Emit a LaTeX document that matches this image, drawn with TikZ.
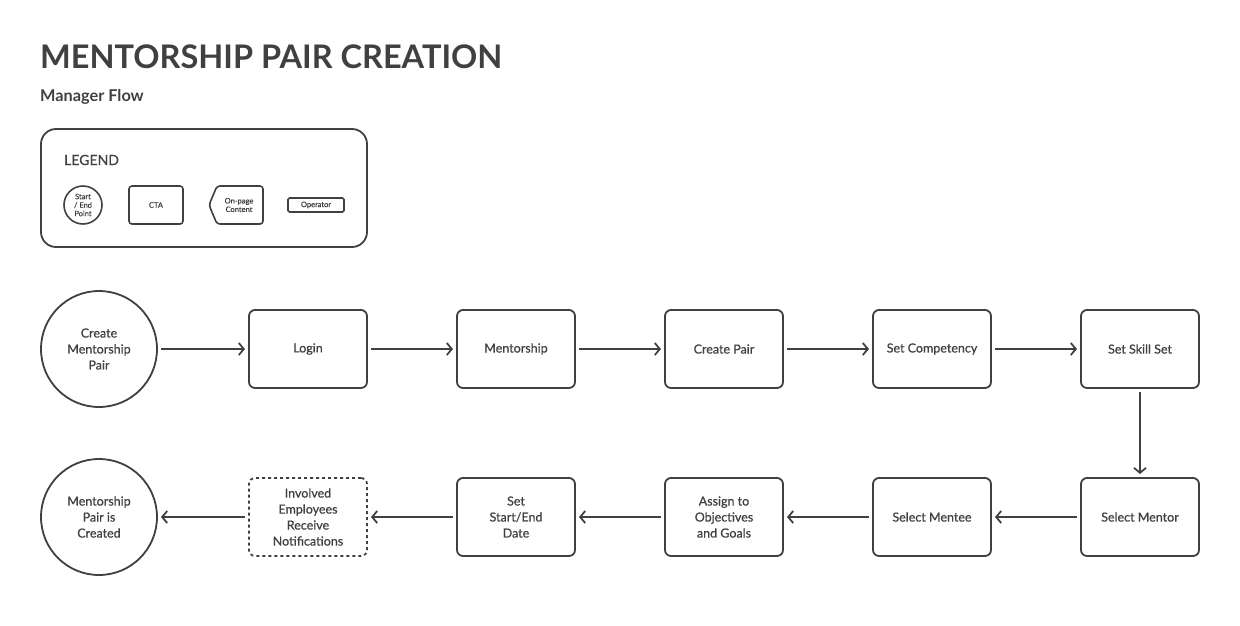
\documentclass[tikz,border=0pt]{standalone}
\usepackage{fontspec}
\setmainfont{Lato}
\newfontfamily\medfont{Lato}[FakeBold=0.6]
\usetikzlibrary{arrows.meta}
\definecolor{ink}{HTML}{404040}
\tikzset{
  box/.style={draw=ink, line width=1.8pt, rounded corners=6pt, minimum width=118pt, minimum height=78pt, align=center, font=\medfont\fontsize{12.5}{16}\selectfont, text=ink, inner sep=2pt, outer sep=0pt},
  term/.style={draw=ink, line width=1.8pt, circle, minimum size=116pt, align=center, font=\medfont\fontsize{12.5}{16}\selectfont, text=ink, inner sep=0pt, outer sep=0pt},
  flow/.style={draw=ink, line width=1.8pt, -{Straight Barb[length=5pt,width=12pt,line width=1.8pt]}, shorten <=4pt, shorten >=4pt},
  lg/.style={draw=ink, line width=1.6pt, align=center, font=\medfont\fontsize{7.5}{8.5}\selectfont, text=ink, inner sep=0pt, outer sep=0pt},
}
\begin{document}
\begin{tikzpicture}[x=1pt,y=-1pt]
\useasboundingbox (0,0) rectangle (1240,625);
\node[anchor=base west, text=ink, font=\fontsize{32.5}{36}\bfseries\selectfont, inner sep=0pt] (title) at (40,68) {MENTORSHIP PAIR CREATION};
\node[anchor=base west, text=ink, font=\fontsize{16.3}{18}\bfseries\selectfont, inner sep=0pt] (sub) at (40,101) {Manager Flow};
% legend
\draw[ink, line width=1.8pt, rounded corners=15pt] (41,129) rectangle (367,247);
\node[anchor=base west, text=ink, font=\medfont\fontsize{14}{15}\selectfont, inner sep=0pt] (legend) at (64,165) {LEGEND};
\node[lg, circle, minimum size=38pt] (lstart) at (83,205) {Start\\/ End\\Point};
\node[lg, rounded corners=3pt, minimum width=54pt, minimum height=38pt] (lcta) at (156,205) {CTA};
\draw[ink, line width=1.6pt, rounded corners=3pt] (217,186) -- (263,186) -- (263,224) -- (217,224) -- (209,205) -- cycle;
\node[text=ink, align=center, font=\medfont\fontsize{7.5}{8.5}\selectfont, inner sep=0pt] (lpage) at (239,205) {On-page\\Content};
\node[lg, rounded corners=1.5pt, minimum width=56pt, minimum height=14pt] (lop) at (316,205) {Operator};
% row 1
\node[term] (start) at (99,349) {Create\\Mentorship\\Pair};
\node[box] (login) at (308,349) {Login};
\node[box] (ment) at (516,349) {Mentorship};
\node[box] (pair) at (724,349) {Create Pair};
\node[box] (comp) at (932,349) {Set Competency};
\node[box] (skill) at (1140,349) {Set Skill Set};
% row 2
\node[box] (mentor) at (1140,517) {Select Mentor};
\node[box] (mentee) at (932,517) {Select Mentee};
\node[box] (obj) at (724,517) {Assign to\\Objectives\\and Goals};
\node[box] (date) at (516,517) {Set\\Start/End\\Date};
\node[box, dash pattern=on 3pt off 3pt] (notif) at (308,517) {Involved\\Employees\\Receive\\Notifications};
\node[term] (end) at (99,517) {Mentorship\\Pair is\\Created};
% connectors
\draw[flow] (start) -- (login);
\draw[flow] (login) -- (ment);
\draw[flow] (ment) -- (pair);
\draw[flow] (pair) -- (comp);
\draw[flow] (comp) -- (skill);
\draw[flow] (skill) -- (mentor);
\draw[flow] (mentor) -- (mentee);
\draw[flow] (mentee) -- (obj);
\draw[flow] (obj) -- (date);
\draw[flow] (date) -- (notif);
\draw[flow] (notif) -- (end);
\end{tikzpicture}
\end{document}
